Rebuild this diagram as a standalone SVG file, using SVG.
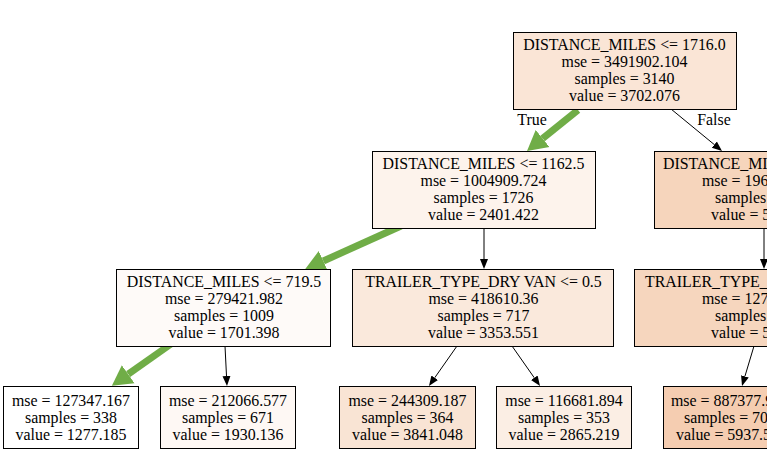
<svg xmlns="http://www.w3.org/2000/svg" width="767" height="456" viewBox="0 0 767 456">
<defs>
<style>
.box{stroke:#000;stroke-width:1}
.t{font-family:"Liberation Serif","Times New Roman",serif;font-size:15.9px;fill:#000;text-anchor:middle}
.ts{font-family:"Liberation Serif","Times New Roman",serif;font-size:15.9px;fill:#000}
.e{stroke:#000;stroke-width:1;fill:none}
.g{stroke:#70ad47;stroke-width:7;fill:none}
</style>
<marker id="ah" markerUnits="userSpaceOnUse" viewBox="0 -5 10 10" refX="0" refY="0" markerWidth="10" markerHeight="10" orient="auto">
<path d="M0,-4 L10,0 L0,4 z" fill="#000"/>
</marker>
<marker id="gh" markerUnits="userSpaceOnUse" viewBox="0 -12 21 24" refX="0" refY="0" markerWidth="21" markerHeight="24" orient="auto">
<path d="M0,-11 L20,0 L0,11 z" fill="#70ad47"/>
</marker>
</defs>
<rect width="767" height="456" fill="#fff"/>
<g id="connectors">
<line class="g" x1="578" y1="110" x2="542.6" y2="138.5" marker-end="url(#gh)"/>
<line class="g" x1="401" y1="226" x2="323.3" y2="261" marker-end="url(#gh)"/>
<line class="g" x1="171" y1="344" x2="128.2" y2="374.2" marker-end="url(#gh)"/>
<line class="e" x1="671" y1="109" x2="714.3" y2="144.6" marker-end="url(#ah)"/>
<line class="e" x1="484" y1="228" x2="484" y2="259" marker-end="url(#ah)"/>
<line class="e" x1="764" y1="228" x2="764" y2="259" marker-end="url(#ah)"/>
<line class="e" x1="225" y1="346" x2="226.5" y2="376" marker-end="url(#ah)"/>
<line class="e" x1="457" y1="346" x2="434.7" y2="377.8" marker-end="url(#ah)"/>
<line class="e" x1="512" y1="346" x2="534.3" y2="377.8" marker-end="url(#ah)"/>
<line class="e" x1="754" y1="346" x2="744.9" y2="376.4" marker-end="url(#ah)"/>
<text class="t" x="532" y="125">True</text>
<text class="t" x="714" y="125">False</text>
</g>
<g id="n0">
<rect class="box" x="513.5" y="32.5" width="223" height="77" fill="#fae5d6"/>
<text class="t" x="624.5" y="50">DISTANCE_MILES &lt;= 1716.0</text>
<text class="t" x="624.5" y="67">mse = 3491902.104</text>
<text class="t" x="624.5" y="84">samples = 3140</text>
<text class="t" x="624.5" y="101">value = 3702.076</text>
</g>
<g id="n1">
<rect class="box" x="372.5" y="151.5" width="223" height="77" fill="#fdf3ec"/>
<text class="t" x="483.5" y="169">DISTANCE_MILES &lt;= 1162.5</text>
<text class="t" x="483.5" y="186">mse = 1004909.724</text>
<text class="t" x="483.5" y="203">samples = 1726</text>
<text class="t" x="483.5" y="220">value = 2401.422</text>
</g>
<g id="n8">
<rect class="box" x="654.5" y="151.5" width="223" height="77" fill="#f6d5bc"/>
<text class="ts" x="663" y="169">DISTANCE_MILES</text>
<text class="ts" x="702" y="186">mse = 196</text>
<text class="ts" x="715" y="203">samples =</text>
<text class="ts" x="711" y="220">value = 5</text>
</g>
<g id="n2">
<rect class="box" x="116.5" y="269.5" width="214" height="77" fill="#fefaf8"/>
<text class="t" x="224" y="287">DISTANCE_MILES &lt;= 719.5</text>
<text class="t" x="224" y="304">mse = 279421.982</text>
<text class="t" x="224" y="321">samples = 1009</text>
<text class="t" x="224" y="338">value = 1701.398</text>
</g>
<g id="n5">
<rect class="box" x="352.5" y="269.5" width="261" height="77" fill="#fae9dc"/>
<text class="t" x="483.5" y="287">TRAILER_TYPE_DRY VAN &lt;= 0.5</text>
<text class="t" x="483.5" y="304">mse = 418610.36</text>
<text class="t" x="483.5" y="321">samples = 717</text>
<text class="t" x="483.5" y="338">value = 3353.551</text>
</g>
<g id="n9">
<rect class="box" x="634.5" y="269.5" width="261" height="77" fill="#f6d6be"/>
<text class="ts" x="645" y="287">TRAILER_TYPE_</text>
<text class="ts" x="702" y="304">mse = 127</text>
<text class="ts" x="715" y="321">samples</text>
<text class="ts" x="711" y="338">value = 5</text>
</g>
<g id="n3">
<rect class="box" x="3.5" y="386.5" width="135" height="62" fill="#ffffff"/>
<text class="t" x="71" y="406">mse = 127347.167</text>
<text class="t" x="71" y="423">samples = 338</text>
<text class="t" x="71" y="440">value = 1277.185</text>
</g>
<g id="n4">
<rect class="box" x="160.5" y="386.5" width="135" height="62" fill="#fef8f4"/>
<text class="t" x="228" y="406">mse = 212066.577</text>
<text class="t" x="228" y="423">samples = 671</text>
<text class="t" x="228" y="440">value = 1930.136</text>
</g>
<g id="n6">
<rect class="box" x="339.5" y="386.5" width="136" height="62" fill="#f9e4d4"/>
<text class="t" x="407.5" y="406">mse = 244309.187</text>
<text class="t" x="407.5" y="423">samples = 364</text>
<text class="t" x="407.5" y="440">value = 3841.048</text>
</g>
<g id="n7">
<rect class="box" x="496.5" y="386.5" width="135" height="62" fill="#fbeee4"/>
<text class="t" x="564" y="406">mse = 116681.894</text>
<text class="t" x="564" y="423">samples = 353</text>
<text class="t" x="564" y="440">value = 2865.219</text>
</g>
<g id="n10">
<rect class="box" x="663.5" y="386.5" width="136" height="62" fill="#f5cdb1"/>
<text class="ts" x="671" y="406">mse = 887377.9</text>
<text class="ts" x="684" y="423">samples = 70</text>
<text class="ts" x="676" y="440">value = 5937.5</text>
</g>
</svg>
